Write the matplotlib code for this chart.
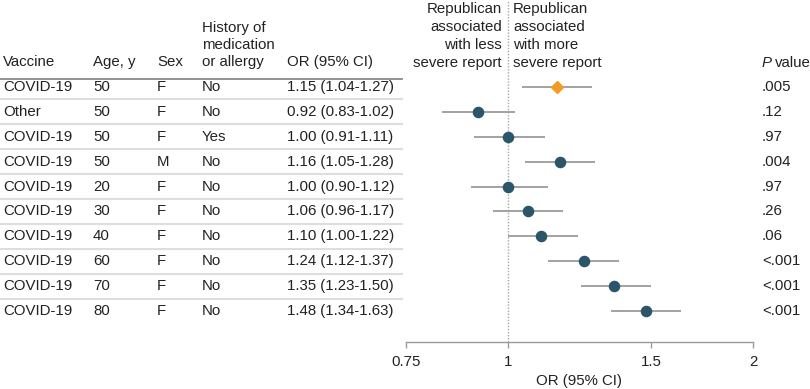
import matplotlib
matplotlib.use("Agg")
import matplotlib.pyplot as plt
from matplotlib.transforms import blended_transform_factory
from matplotlib.ticker import FixedLocator, FixedFormatter, NullLocator

plt.rcParams['font.family'] = ['Liberation Sans Narrow', 'Liberation Sans', 'DejaVu Sans']

vaccine = ["COVID-19", "Other", "COVID-19", "COVID-19", "COVID-19", "COVID-19",
           "COVID-19", "COVID-19", "COVID-19", "COVID-19"]
age = ["50", "50", "50", "50", "20", "30", "40", "60", "70", "80"]
sex = ["F", "F", "F", "M", "F", "F", "F", "F", "F", "F"]
history = ["No", "No", "Yes", "No", "No", "No", "No", "No", "No", "No"]
or_est = [1.15, 0.92, 1.00, 1.16, 1.00, 1.06, 1.10, 1.24, 1.35, 1.48]
ci_lo = [1.04, 0.83, 0.91, 1.05, 0.90, 0.96, 1.00, 1.12, 1.23, 1.34]
ci_hi = [1.27, 1.02, 1.11, 1.28, 1.12, 1.17, 1.22, 1.37, 1.50, 1.63]
p_values = [".005", ".12", ".97", ".004", ".97", ".26", ".06", "<.001", "<.001", "<.001"]
xticks = [0.75, 1, 1.5, 2]
xtick_labels = ["0.75", "1", "1.5", "2"]

W, H = 810, 389
fig = plt.figure(figsize=(W / 100, H / 100), dpi=100)
ax = fig.add_axes([406 / W, 1 - 342 / H, (753 - 406) / W, 342 / H])

TEXT = "#222222"
GRAY = "#9b9b9b"
TEAL = "#2b5568"
ORANGE = "#f39a24"
FS = 10.8

n = len(or_est)
rows = list(range(n))
ax.set_xscale("log")
ax.set_xlim(0.75, 2)
row_px = 24.9
ax.set_ylim(255 / row_px, -87 / row_px)

for i in rows:
    ax.plot([ci_lo[i], ci_hi[i]], [i, i], color=GRAY, lw=1.3, zorder=2,
            solid_capstyle="butt")
    if i == 0:
        ax.plot(or_est[i], i, marker="D", ms=6.5, color=ORANGE, mec=ORANGE, zorder=3)
    else:
        ax.plot(or_est[i], i, marker="o", ms=7.3, color=TEAL, mec=TEAL, zorder=3)

ax.axvline(1, color="#a5a5a5", lw=1.0, ls=(0, (1, 1.2)), zorder=1)

for s in ["top", "right", "left"]:
    ax.spines[s].set_visible(False)
ax.spines["bottom"].set_color(GRAY)
ax.spines["bottom"].set_linewidth(1.0)
ax.xaxis.set_major_locator(FixedLocator(xticks))
ax.xaxis.set_major_formatter(FixedFormatter(xtick_labels))
ax.xaxis.set_minor_locator(NullLocator())
ax.tick_params(axis="x", direction="out", length=4, width=1.0, color=GRAY,
               labelsize=FS, labelcolor=TEXT, pad=5)
ax.set_yticks([])
ax.set_xlabel("OR (95% CI)", fontsize=FS, color=TEXT, labelpad=4)
ax.patch.set_alpha(0)

tr = blended_transform_factory(fig.transFigure, ax.transData)

col_x = [3, 93, 157, 202, 287]
cols = [vaccine, age, sex, history,
        [f"{o:.2f} ({l:.2f}-{h:.2f})" for o, l, h in zip(or_est, ci_lo, ci_hi)]]
for cx, col in zip(col_x, cols):
    for i in rows:
        fig.text(cx / W, i, col[i], transform=tr, fontsize=FS, color=TEXT,
                 ha="left", va="center")
for i in rows:
    fig.text(762 / W, i, p_values[i], transform=tr, fontsize=FS, color=TEXT,
             ha="left", va="center")

# separators
for i in range(n - 1):
    fig.add_artist(plt.Line2D([0, 402 / W], [i + 0.5, i + 0.5], transform=tr,
                              color="#dedede", lw=1.5))
fig.add_artist(plt.Line2D([0, 402 / W], [-8 / row_px, -8 / row_px], transform=tr,
                          color="#8a8a8a", lw=1.3))

# headers (one text per line, pixel rows of the header block)
def hy(px):
    return (px - 87) / row_px

headers = ["Vaccine", "Age, y", "Sex", None, "OR (95% CI)"]
for cx, h in zip(col_x, headers):
    if h:
        fig.text(cx / W, hy(62), h, transform=tr, fontsize=FS, color=TEXT,
                 ha="left", va="center")
for line, py in zip(["History of", "medication", "or allergy"], [28, 45, 62]):
    fig.text(col_x[3] / W, hy(py), line, transform=tr, fontsize=FS, color=TEXT,
             ha="left", va="center")
left_lines = ["Republican", "associated", "with less", "severe report"]
right_lines = ["Republican", "associated", "with more", "severe report"]
for l1, l2, py in zip(left_lines, right_lines, [9, 27, 45, 63]):
    fig.text(502 / W, hy(py), l1, transform=tr, fontsize=FS, color=TEXT,
             ha="right", va="center")
    fig.text(513 / W, hy(py), l2, transform=tr, fontsize=FS, color=TEXT,
             ha="left", va="center")
tp = fig.text(762 / W, hy(63), "P", transform=tr, fontsize=FS, color=TEXT, ha="left",
              va="center", style="italic")
ax.annotate("value", xy=(1, 0.5), xycoords=tp, xytext=(2, 0), textcoords="offset points",
            fontsize=FS, color=TEXT, ha="left", va="center", annotation_clip=False)

fig.savefig("out.png", dpi=100)
